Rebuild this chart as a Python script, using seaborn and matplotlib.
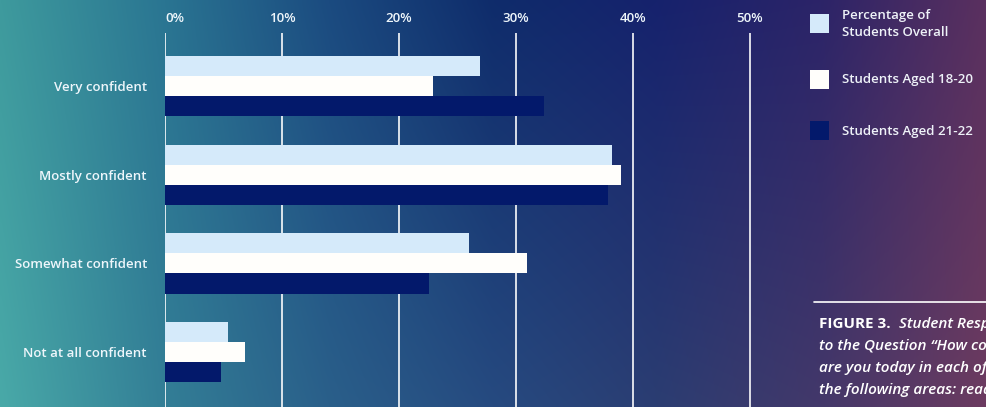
import numpy as np
import pandas as pd
import matplotlib
matplotlib.use("Agg")
import matplotlib.pyplot as plt
from matplotlib.patches import Rectangle
from matplotlib.colors import to_rgb
import seaborn as sns

# datos
categorias = ["Very confident", "Mostly confident", "Somewhat confident", "Not at all confident"]
series = ["Percentage of\nStudents Overall", "Students Aged 18-20", "Students Aged 21-22"]
overall = [26.9, 38.2, 26.0, 5.4]
aged_18_20 = [22.9, 39.0, 31.0, 6.8]
aged_21_22 = [32.4, 37.9, 22.6, 4.8]
xticks = [0, 10, 20, 30, 40, 50]
colores = ["#d5eafa", "#fffefb", "#03196b"]

df = pd.DataFrame({
    "categoria": categorias * 3,
    "serie": [series[0]] * 4 + [series[1]] * 4 + [series[2]] * 4,
    "valor": overall + aged_18_20 + aged_21_22,
})

sns.set_style("white")
plt.rcParams["font.family"] = ["Open Sans", "DejaVu Sans"]

fig = plt.figure(figsize=(9.86, 4.07), dpi=100)

# fondo degradado (arriba y abajo, de izquierda a derecha)
arriba = ["#3e9a9d", "#2a7592", "#1b4b80", "#0f2c6b", "#16226d", "#2c2468", "#5a305f"]
abajo = ["#49a9a8", "#337e96", "#2a5f8a", "#264a80", "#2b3d72", "#43386a", "#6c3b60"]
w, h = 400, 100
def fila(stops):
    cols = np.array([to_rgb(c) for c in stops])
    xs = np.linspace(0, 1, len(stops))
    t = np.linspace(0, 1, w)
    return np.stack([np.interp(t, xs, cols[:, k]) for k in range(3)], axis=1)
top, bot = fila(arriba), fila(abajo)
v = np.linspace(0, 1, h)[:, None, None]
img = top[None] * (1 - v) + bot[None] * v
bg = fig.add_axes([0, 0, 1, 1], zorder=0)
bg.imshow(img, aspect="auto", extent=[0, 1, 0, 1], interpolation="bilinear")
bg.set_axis_off()

W, H = 986, 407
ax = fig.add_axes([165 / W, 0, 587 / W, 1 - 33 / H], zorder=1)
ax.patch.set_alpha(0)
sns.barplot(data=df, x="valor", y="categoria", hue="serie", order=categorias,
            hue_order=series, palette=colores, width=0.68, orient="h",
            saturation=1, ax=ax, legend=False, linewidth=0)

ax.set_xlim(0, 50.2)
ax.set_ylim(3.62, -0.6)
ax.set_xticks(xticks)
ax.set_xticklabels([f"{t}%" for t in xticks], fontweight="semibold")
ax.set_yticks(range(len(categorias)))
ax.set_yticklabels(categorias, fontweight="semibold")
ax.xaxis.tick_top()
ax.grid(axis="x", color="white", lw=1.3, alpha=0.9)
ax.set_axisbelow(True)
ax.tick_params(axis="x", length=0, pad=6, labelsize=9.5, labelcolor="#eef6fb")
ax.tick_params(axis="y", length=0, pad=13, labelsize=9.5, labelcolor="#eef6fb")
ax.get_xticklabels()[0].set_horizontalalignment("left")
ax.set_xlabel("")
ax.set_ylabel("")
for s in ax.spines.values():
    s.set_visible(False)

# leyenda manual
ley_y = [23, 79, 130]
for nombre, col, yy in zip(series, colores, ley_y):
    fig.patches.append(Rectangle((810 / W, 1 - (yy + 9.5) / H), 19 / W, 19 / H,
                                 transform=fig.transFigure, facecolor=col,
                                 edgecolor="none", zorder=3))
    fig.text(842 / W, 1 - (yy + 1) / H, nombre, color="#eef2f8", fontsize=9.5,
             fontweight="semibold", va="center", ha="left", linespacing=1.3,
             zorder=3)

# pie de figura
fig.add_artist(plt.Line2D([814 / W, 1], [1 - 302 / H, 1 - 302 / H],
                          color="white", lw=1.2, transform=fig.transFigure))
fig.text(819 / W, 1 - 324 / H, "FIGURE 3.", color="white", fontsize=11,
         fontweight="bold", va="center")
lineas = ["Student Responses", "to the Question \u201cHow confident",
          "are you today in each of", "the following areas: reading"]
ys = [324, 346, 368, 390]
for i, (txt, yy) in enumerate(zip(lineas, ys)):
    fig.text((899 if i == 0 else 819) / W, 1 - yy / H, txt, color="white",
             fontsize=11, fontstyle="italic", fontweight="semibold", va="center")

fig.savefig("out.png", dpi=100)
